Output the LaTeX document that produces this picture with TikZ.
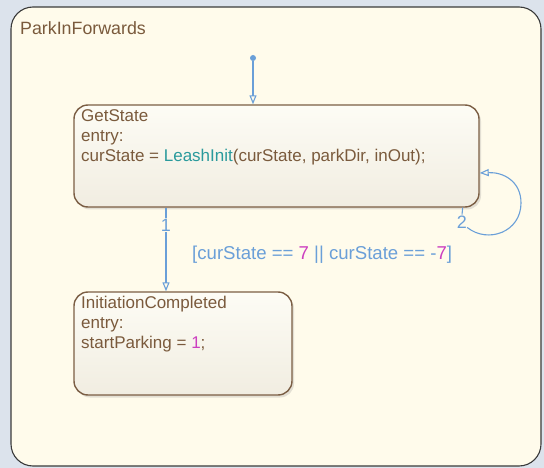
\documentclass[tikz,border=0pt]{standalone}
\usepackage{fontspec}
\setmainfont{Liberation Sans}
\usetikzlibrary{arrows.meta,shadows,calc}

\definecolor{pagebg}{HTML}{DCE3EC}
\definecolor{chartfill}{HTML}{FFFBEB}
\definecolor{chartline}{HTML}{3A3A3A}
\definecolor{statetop}{HTML}{FDFCF5}
\definecolor{statebot}{HTML}{F1EDE1}
\definecolor{stateline}{HTML}{7B5E44}
\definecolor{brown}{HTML}{7A5A3C}
\definecolor{teal}{HTML}{2A9A9C}
\definecolor{trblue}{HTML}{6A9FD8}
\definecolor{magenta}{HTML}{CC3FC0}

\tikzset{
  chartbox/.style={draw=chartline, line width=1.1pt, fill=chartfill,
    rounded corners=22pt, inner sep=0pt},
  statebox/.style={draw=stateline, line width=1.4pt, rounded corners=14pt,
    top color=statetop, bottom color=statebot, inner sep=0pt,
    drop shadow={shadow xshift=2pt, shadow yshift=-2.5pt, opacity=0.22}},
  stext/.style={text=brown, inner sep=0pt, anchor=base west,
    font=\fontsize{17}{20}\selectfont},
  tr/.style={draw=trblue, line width=1.1pt,
    -{Triangle[open, length=9pt, width=7pt]}},
  trline/.style={draw=trblue, line width=1.1pt},
  tlabel/.style={text=trblue, fill=chartfill, inner sep=1pt,
    font=\fontsize{18}{20}\selectfont},
  cond/.style={text=trblue, inner sep=0pt, anchor=base west,
    font=\fontsize{18.6}{20}\selectfont},
  dot/.style={circle, fill=trblue, inner sep=0pt, minimum size=6pt}
}

\begin{document}
\begin{tikzpicture}[x=1pt, y=-1pt]
\useasboundingbox (0,0) rectangle (544,468);
\fill[pagebg] (0,0) rectangle (544,468);

% chart frame
\node[chartbox, minimum width=530pt, minimum height=459pt] (chart) at (276,236.5) {};
\node[stext, font=\fontsize{17.8}{20}\selectfont] (title) at (20,35) {ParkInForwards};

% states
\node[statebox, minimum width=405pt, minimum height=102pt] (gs) at (276.5,156) {};
\node[stext] (gs1) at (81,121.7) {GetState};
\node[stext] (gs2) at (81,141.7) {entry:};
\node[stext] (gs3) at (81,161.7) {curState = \textcolor{teal}{LeashInit}(curState, parkDir, inOut);};

\node[statebox, minimum width=218pt, minimum height=103pt] (ic) at (183,343.5) {};
\node[stext] (ic1) at (81,308.3) {InitiationCompleted};
\node[stext] (ic2) at (81,328.3) {entry:};
\node[stext] (ic3) at (81,348.3) {startParking = \textcolor{magenta}{1};};

% default transition
\node[dot] (init) at (253,58) {};
\draw[tr] (init) -- (253,0 |- gs.north);

% transition 1
\draw[tr] (166,0 |- gs.south) -- node[tlabel, pos=0.21] (n1) {1} (166,0 |- ic.north);
\node[cond] (guard) at (192,259) {[curState == \textcolor{magenta}{7} || curState == -\textcolor{magenta}{7}]};

% transition 2 (self loop)
\node[tlabel] (n2) at (462,222) {2};
\draw[trline] ([xshift=-17pt]gs.south east) -- (n2.north);
\draw[tr] ([xshift=-1pt,yshift=2pt]n2.south east)
  .. controls (488,244) and (521,232) .. (521,203)
  .. controls (521,181) and (503,172) .. ([yshift=-17pt]gs.east);
\end{tikzpicture}
\end{document}
